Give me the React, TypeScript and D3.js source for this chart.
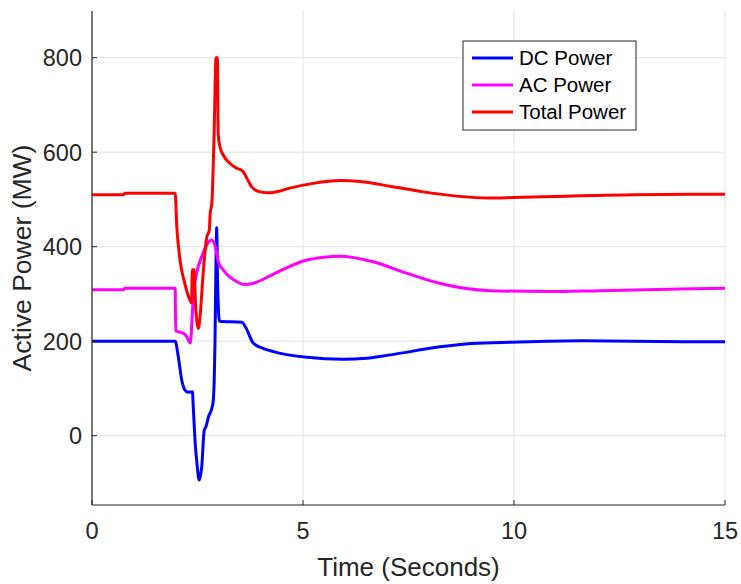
import React from "react";
import * as d3 from "d3";

type Pt = [number, number];

// time (s), active power (MW)
const dcPower: Pt[] = [
  [0, 200], [0.8, 200], [1.97, 200], [2.045, 167], [2.125, 118], [2.2, 97],
  [2.28, 92], [2.38, 93], [2.4, 61], [2.44, -9], [2.495, -66], [2.54, -94],
  [2.6, -66], [2.66, 12], [2.7, 19], [2.76, 40], [2.84, 58], [2.875, 75],
  [2.9, 133], [2.915, 202], [2.94, 380], [2.955, 440], [2.975, 330], [3.0, 260],
  [3.02, 242], [3.55, 240], [3.65, 228], [3.82, 196], [4.05, 185], [4.3, 178],
  [5.09, 166], [5.95, 162], [6.5, 164], [7.06, 171], [8.25, 188], [9.0, 195],
  [9.98, 198], [11.63, 201], [14.0, 199], [15, 199]
];

const acPower: Pt[] = [
  [0, 309], [0.75, 309], [0.78, 312], [1.97, 312], [1.985, 222], [2.045, 220],
  [2.16, 217], [2.24, 210], [2.33, 196], [2.37, 245], [2.4, 294], [2.48, 344],
  [2.6, 379], [2.72, 404], [2.84, 414], [2.92, 400], [3.0, 366], [3.1, 352],
  [3.25, 337], [3.43, 326], [3.6, 320], [3.8, 322], [4.3, 342], [5.09, 372],
  [5.88, 380], [6.66, 368], [7.45, 344], [8.25, 322], [9.43, 307], [10.8, 305],
  [12.04, 307], [15, 312]
];

const totalPower: Pt[] = [
  [0, 510], [0.75, 510], [0.78, 513], [1.97, 513], [2.01, 442], [2.085, 372],
  [2.2, 322], [2.32, 287], [2.36, 281], [2.377, 351], [2.417, 351], [2.457, 273],
  [2.52, 227], [2.56, 252], [2.64, 351], [2.72, 420], [2.78, 435], [2.8, 470],
  [2.84, 492], [2.89, 626], [2.94, 800], [2.97, 800], [2.99, 640], [3.03, 612],
  [3.11, 594], [3.27, 576], [3.43, 566], [3.57, 560], [3.67, 545], [3.78, 527],
  [3.98, 516], [4.22, 514], [4.45, 518], [4.69, 524], [5.24, 534], [5.88, 540],
  [6.35, 538], [7.06, 528], [7.85, 516], [8.64, 507], [9.43, 503], [9.98, 504],
  [11.25, 507], [12.83, 510], [15, 511]
];

const seriesNames = ["DC Power", "AC Power", "Total Power"];
const seriesColors = ["#0000ff", "#ff00ff", "#ff0000"];
const xTicks = [0, 5, 10, 15];
const yTicks = [0, 200, 400, 600, 800];

const width = 741;
const height = 584;
const margin = { top: 11, right: 16, bottom: 79, left: 92 };

const x = d3.scaleLinear().domain([0, 15]).range([margin.left, width - margin.right]);
const y = d3.scaleLinear().domain([-146.7, 898.8]).range([height - margin.bottom, margin.top]);

const line = d3
  .line<Pt>()
  .x(d => x(d[0]))
  .y(d => y(d[1]))
  .curve(d3.curveMonotoneX);

const font = "'Liberation Sans', Arial, Helvetica, sans-serif";
const axisColor = "#262626";
const gridColor = "#e3e3e3";

export default function App() {
  const series = [dcPower, acPower, totalPower];
  const x0 = margin.left;
  const x1 = width - margin.right;
  const y0 = height - margin.bottom;
  const y1 = margin.top;
  const legend = { x: 463, y: 41, w: 173, h: 89 };

  return (
    <svg
      width={width}
      height={height}
      style={{ position: "absolute", left: 0, top: 0, background: "#fff" }}
      fontFamily={font}
    >
      {yTicks.map(t => (
        <line key={"gy" + t} x1={x0} x2={x1} y1={y(t)} y2={y(t)} stroke={gridColor} strokeWidth={1} />
      ))}
      {xTicks.map(t => (
        <line key={"gx" + t} x1={x(t)} x2={x(t)} y1={y0} y2={y1} stroke={gridColor} strokeWidth={1} />
      ))}

      {series.map((s, i) => (
        <path
          key={seriesNames[i]}
          d={line(s) || ""}
          fill="none"
          stroke={seriesColors[i]}
          strokeWidth={3}
          strokeLinejoin="round"
        />
      ))}

      <line x1={x0} x2={x0} y1={y0} y2={y1} stroke={axisColor} strokeWidth={1.2} />
      <line x1={x0} x2={x1} y1={y0} y2={y0} stroke={axisColor} strokeWidth={1.2} />
      {yTicks.map(t => (
        <g key={"ty" + t}>
          <line x1={x0} x2={x0 + 5} y1={y(t)} y2={y(t)} stroke={axisColor} />
          <text x={82} y={y(t)} dy="0.36em" textAnchor="end" fontSize={23.5} fill={axisColor}>
            {t}
          </text>
        </g>
      ))}
      {xTicks.map(t => (
        <g key={"tx" + t}>
          <line x1={x(t)} x2={x(t)} y1={y0} y2={y0 - 5} stroke={axisColor} />
          <text x={x(t)} y={539} textAnchor="middle" fontSize={23.5} fill={axisColor}>
            {t}
          </text>
        </g>
      ))}

      <text x={(x0 + x1) / 2} y={576} textAnchor="middle" fontSize={26} fill={axisColor}>
        Time (Seconds)
      </text>
      <text
        transform={`translate(31,${(y0 + y1) / 2}) rotate(-90)`}
        textAnchor="middle"
        fontSize={26.5}
        fill={axisColor}
      >
        Active Power (MW)
      </text>

      <rect x={legend.x} y={legend.y} width={legend.w} height={legend.h} fill="#fff" stroke={axisColor} strokeWidth={1} />
      {seriesNames.map((n, i) => (
        <g key={"lg" + n}>
          <line
            x1={472}
            x2={513}
            y1={58 + i * 27}
            y2={58 + i * 27}
            stroke={seriesColors[i]}
            strokeWidth={3}
          />
          <text x={519} y={58 + i * 27} dy="0.36em" fontSize={20.5} fill="#000">
            {n}
          </text>
        </g>
      ))}
    </svg>
  );
}
